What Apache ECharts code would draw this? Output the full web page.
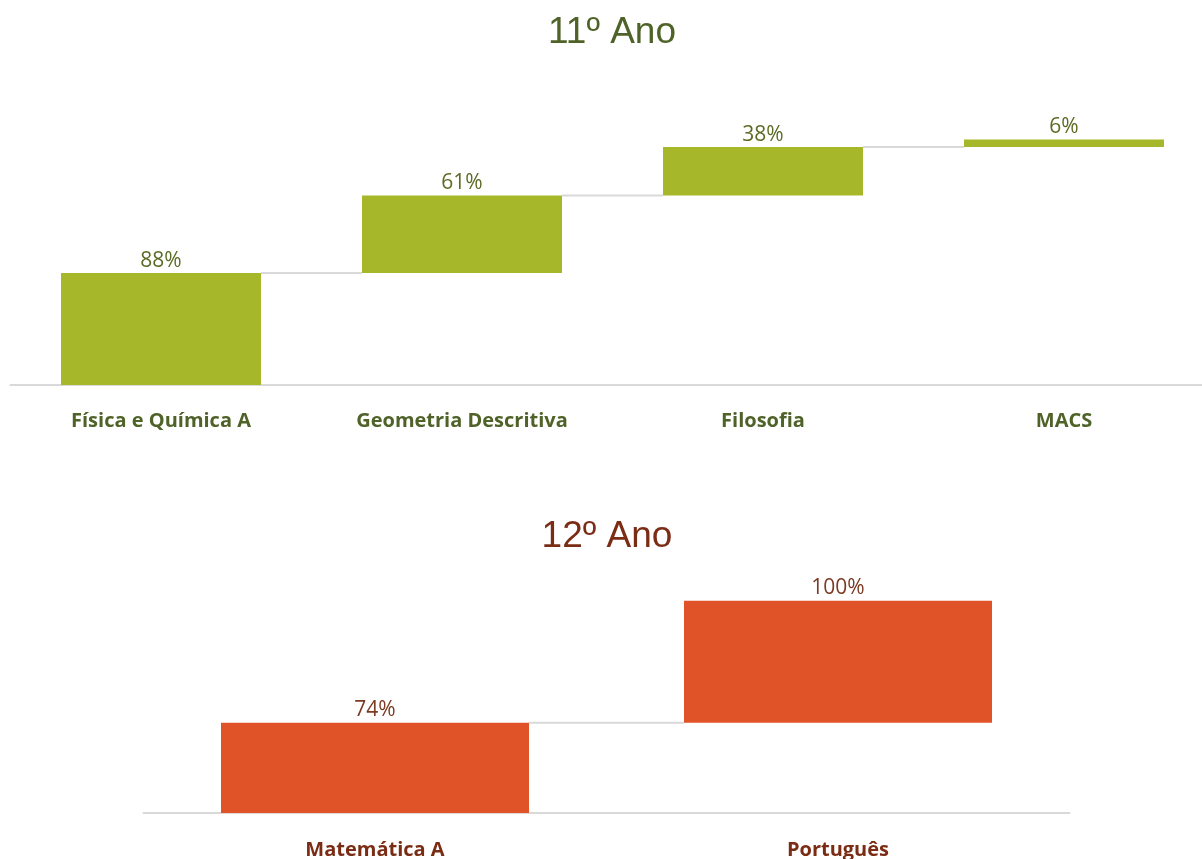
<!DOCTYPE html>
<html>
<head>
<meta charset="utf-8">
<script src="https://cdn.jsdelivr.net/npm/echarts@6/dist/echarts.min.js"></script>
<style>html,body{margin:0;padding:0;background:#fff}#c{width:1202px;height:859px}</style>
</head>
<body>
<div id="c"></div>
<script>
const cats11 = ['Física e Química A', 'Geometria Descritiva', 'Filosofia', 'MACS'];
const vals11 = [88, 61, 38, 6];
const cats12 = ['Matemática A', 'Português'];
const vals12 = [74, 100];

function bases(v) { const b = []; let s = 0; v.forEach(x => { b.push(s); s += x; }); return b; }
function connectors(v) { const c = []; let s = 0; v.forEach((x, i) => { s += x; if (i < v.length - 1) c.push([i, s]); }); return c; }

const base11 = bases(vals11), base12 = bases(vals12);
const conn11 = connectors(vals11), conn12 = connectors(vals12);

const green = '#a6b82a', orange = '#e05328';
const olive = '#4f6228', olive2 = '#5b6b24', brown = '#7a2c14', brown2 = '#7b3a22';

function connRender(bw) {
  return function (params, api) {
    const i = api.value(0), lv = api.value(1);
    const p1 = api.coord([i, lv]), p2 = api.coord([i + 1, lv]);
    return { type: 'line', shape: { x1: p1[0] + bw / 2, y1: p1[1], x2: p2[0] - bw / 2, y2: p2[1] },
      style: { stroke: '#d9d9d9', lineWidth: 2 } };
  };
}

const chart = echarts.init(document.getElementById('c'));
chart.setOption({
  animation: false,
  title: [
    { text: '11º Ano', left: 607, top: 9, textAlign: 'center',
      textStyle: { fontFamily: 'Liberation Sans', fontWeight: 'normal', fontSize: 37, color: olive } },
    { text: '12º Ano', left: 602, top: 513, textAlign: 'center',
      textStyle: { fontFamily: 'Liberation Sans', fontWeight: 'normal', fontSize: 37, color: brown } }
  ],
  grid: [
    { left: 10.5, width: 1204, top: 130.5, height: 254.5, outerBoundsMode: 'none', containLabel: false },
    { left: 143.5, width: 926, top: 569, height: 244, outerBoundsMode: 'none', containLabel: false }
  ],
  xAxis: [
    { type: 'category', gridIndex: 0, data: cats11,
      axisLine: { lineStyle: { color: '#d9d9d9', width: 2 } }, axisTick: { show: false },
      axisLabel: { margin: 26, fontFamily: 'Open Sans', fontWeight: 'bold', fontSize: 20, color: olive } },
    { type: 'category', gridIndex: 1, data: cats12,
      axisLine: { lineStyle: { color: '#d9d9d9', width: 2 } }, axisTick: { show: false },
      axisLabel: { margin: 27, fontFamily: 'Open Sans', fontWeight: 'bold', fontSize: 20, color: brown } }
  ],
  yAxis: [
    { type: 'value', gridIndex: 0, min: 0, max: 200, show: false, splitLine: { show: false } },
    { type: 'value', gridIndex: 1, min: 0, max: 200, show: false, splitLine: { show: false } }
  ],
  series: [
    { type: 'bar', xAxisIndex: 0, yAxisIndex: 0, stack: 'a', data: base11, barWidth: 200,
      itemStyle: { color: 'transparent' }, silent: true },
    { type: 'bar', xAxisIndex: 0, yAxisIndex: 0, stack: 'a', data: vals11, barWidth: 200,
      itemStyle: { color: green },
      label: { show: true, position: 'top', distance: 2, formatter: '{c}%',
        fontFamily: 'Open Sans', fontSize: 21, color: olive2 } },
    { type: 'custom', xAxisIndex: 0, yAxisIndex: 0, data: conn11, renderItem: connRender(200), z: 1 },
    { type: 'bar', xAxisIndex: 1, yAxisIndex: 1, stack: 'b', data: base12, barWidth: 308,
      itemStyle: { color: 'transparent' }, silent: true },
    { type: 'bar', xAxisIndex: 1, yAxisIndex: 1, stack: 'b', data: vals12, barWidth: 308,
      itemStyle: { color: orange },
      label: { show: true, position: 'top', distance: 2, formatter: '{c}%',
        fontFamily: 'Open Sans', fontSize: 21, color: brown2 } },
    { type: 'custom', xAxisIndex: 1, yAxisIndex: 1, data: conn12, renderItem: connRender(308), z: 1 }
  ]
});
</script>
</body>
</html>
